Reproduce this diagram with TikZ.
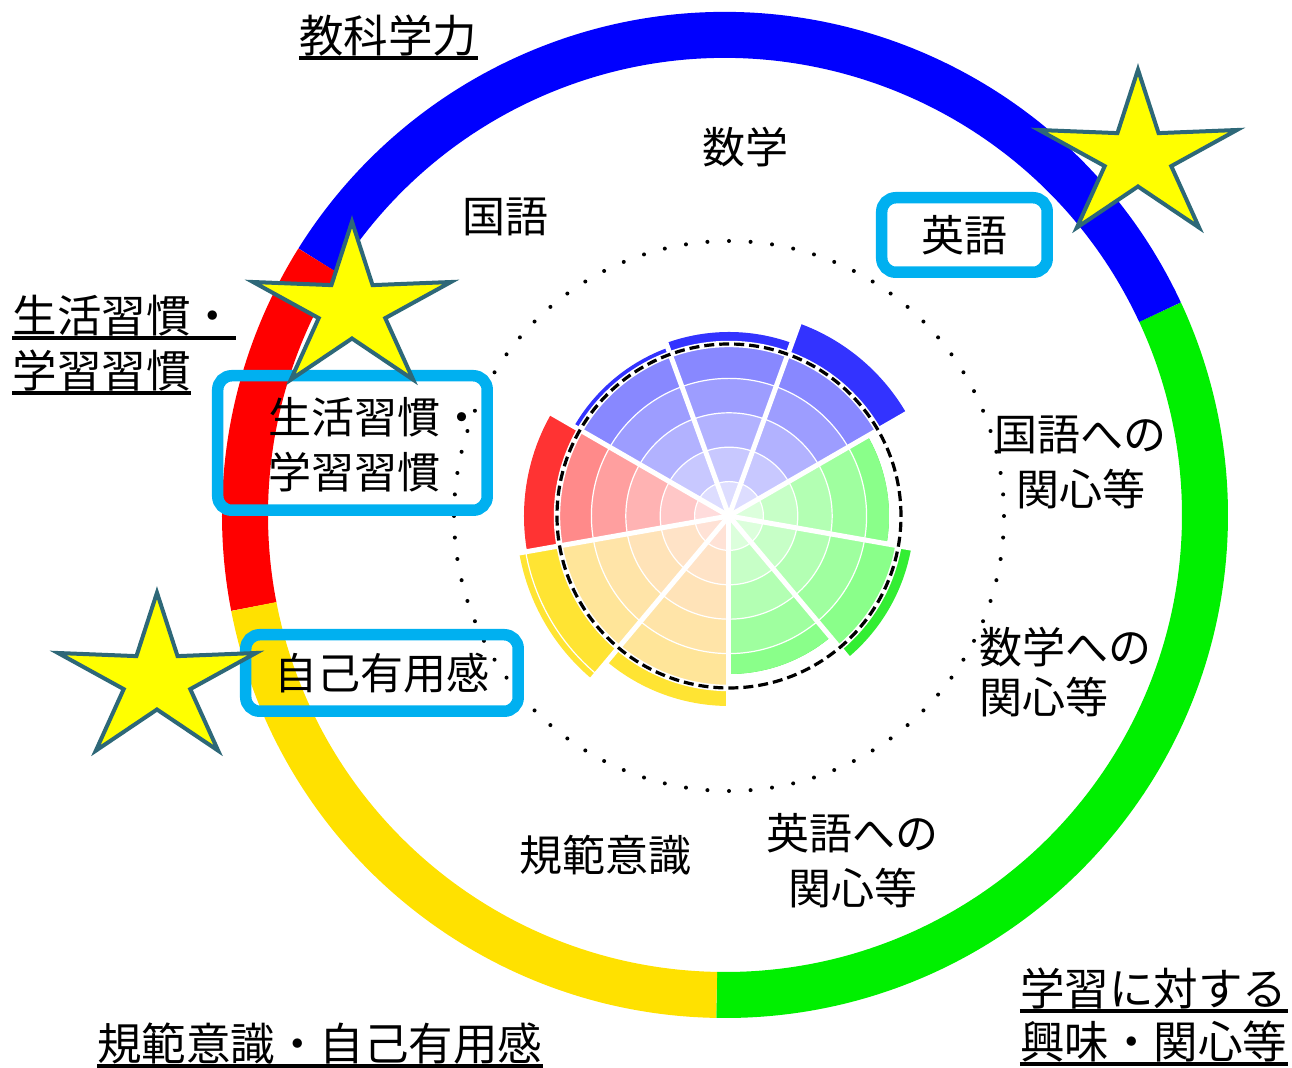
\documentclass[tikz,border=0pt]{standalone}
\usepackage{fontspec}
\newfontfamily\jp{Noto Sans CJK JP}
\usepackage{tikz}
\usetikzlibrary{calc}

\definecolor{ringblu}{HTML}{0000FF}
\definecolor{ringred}{HTML}{FF0000}
\definecolor{ringyel}{HTML}{FFE100}
\definecolor{ringgrn}{HTML}{00F000}
\definecolor{outblu}{HTML}{8888FF}
\definecolor{inblu}{HTML}{DDDDFF}
\definecolor{bandblu}{HTML}{3333FF}
\definecolor{outred}{HTML}{FF8A8A}
\definecolor{inred}{HTML}{FFDCDC}
\definecolor{bandred}{HTML}{FF3333}
\definecolor{outyel}{HTML}{FFE599}
\definecolor{inyel}{HTML}{FFE2D6}
\definecolor{bandyel}{HTML}{FFE433}
\definecolor{outgrn}{HTML}{8AFF8A}
\definecolor{ingrn}{HTML}{DCFFDC}
\definecolor{bandgrn}{HTML}{33EE33}
\definecolor{boxcyan}{HTML}{00B0F0}
\definecolor{starline}{HTML}{2E6878}
\definecolor{starfill}{HTML}{FFFF00}

\begin{document}
\begin{tikzpicture}[x=0.5pt, y=0.5pt,
	ring_seg/.style={line width=23pt},
	sep_line/.style={white, line width=2.5pt},
	grid_line/.style={white, line width=0.6pt},
	avg_line/.style={black, line width=1.6pt, dash pattern=on 5pt off 2.5pt},
	cat_label/.style={font=\jp\fontsize{22.25}{27.5}\selectfont, inner sep=0pt, text height=18.5pt, text depth=2.5pt},
	u_line/.style={line width=2pt},
	in_label/.style={font=\jp\fontsize{21.5}{27.5}\selectfont, inner sep=0pt, align=center},
	hi_box/.style={in_label, draw=boxcyan, line width=5.75pt, rounded corners=7pt},
	star_line/.style={draw=starline, fill=starfill, line width=2pt},
	star_pic/.pic={
		\draw[star_line] (90:104 and 87.3) -- (126:35 and 29.5) -- (162:104 and 87.3) -- (198:35 and 29.5) -- (234:104 and 87.3) -- (270:35 and 29.5) -- (306:104 and 87.3) -- (342:35 and 29.5) -- (18:104 and 87.3) -- (54:35 and 29.5) -- cycle;
	}]
	\useasboundingbox (-729,-552) rectangle (563,516);
	
	% outer ring
	\coordinate (ringc) at (-4,1);
	\draw[ring_seg, ringgrn] ([shift={(269:480)}]ringc) arc[start angle=269, end angle=385, radius=480];
	\draw[ring_seg, ringblu] ([shift={(25:480)}]ringc) arc[start angle=25, end angle=148, radius=480];
	\draw[ring_seg, ringred] ([shift={(148:480)}]ringc) arc[start angle=148, end angle=191, radius=480];
	\draw[ring_seg, ringyel] ([shift={(191:480)}]ringc) arc[start angle=191, end angle=269, radius=480];
	
	% chart sectors
	\foreach \a/\v/\c in {30/205/blu,70/184/blu,110/179/blu,150/205/red,190/213/yel,230/190/yel,270/158/grn,310/185/grn,350/160/grn}{
		\fill[band\c] (0,0) -- (\a:\v) arc[start angle=\a, end angle=\a+40, radius=\v] -- cycle;
		\foreach \k in {5,4,...,1}{
			\pgfmathsetmacro{\r}{min(34.4*\k,\v)}
			\pgfmathsetmacro{\p}{25*(\k-1)}
			\fill[out\c!\p!in\c] (0,0) -- (\a:\r) arc[start angle=\a, end angle=\a+40, radius=\r] -- cycle;
		}
	}
	\foreach \k in {1,...,6}
		\draw[grid_line] (0,0) circle[radius=34.4*\k];
	\foreach \a in {30,70,...,350}
		\draw[sep_line] (0,0) -- (\a:222);
	\draw[white, line width=3.2pt] (0,0) circle[radius=172];
	\draw[avg_line] (0,0) circle[radius=172];
	
	% dotted circle
	\foreach \a in {0,4.5,...,355.5}
		\fill (\a:275) circle[radius=2];
	
	% group labels
	\node[cat_label] (kyoka) at (-340.5,479) {教科学力};
	\node[cat_label, anchor=west] (seikatsu1) at (-716.5,199) {生活習慣・};
	\node[cat_label, anchor=west] (seikatsu2) at (-716.5,144) {学習習慣};
	\node[cat_label] (kihan) at (-409,-529) {規範意識・自己有用感};
	\node[cat_label, anchor=west] (kyomi1) at (291,-474) {学習に対する};
	\node[cat_label, anchor=west] (kyomi2) at (291,-527) {興味・関心等};
	\foreach \n in {kyoka,seikatsu1,seikatsu2,kihan,kyomi1,kyomi2}
		\draw[u_line] (\n.south west) -- (\n.south east);
	
	% item labels
	\node[in_label] (sugaku) at (17,369) {数学};
	\node[in_label] (kokugo) at (-223,299) {国語};
	\node[in_label] (kokugo_kan) at (352,53.5) {国語への\\関心等};
	\node[in_label, align=left, anchor=west, font=\jp\fontsize{21.5}{25}\selectfont] (sugaku_kan) at (250,-156) {数学への\\関心等};
	\node[in_label] (eigo_kan) at (124,-344.5) {英語への\\関心等};
	\node[in_label] (kihan_in) at (-123,-339) {規範意識};
	\node[in_label, align=left, anchor=west] (seikatsu) at (-461,71) {生活習慣・\\学習習慣};
	
	% highlight boxes
	\node[hi_box, minimum width=82.75pt, minimum height=37.25pt] (eigo) at (235.5,281) {英語};
	\node[hi_box, minimum width=134.75pt, minimum height=67.25pt] (seikatsu_box) at (-376.5,73) {};
	\node[hi_box, minimum width=136.25pt, minimum height=38.25pt] (jiko) at (-347,-157) {自己有用感};
	
	% stars
	\pic at (-572,-164) {star_pic};
	\pic at (-377,207) {star_pic};
	\pic at (409,359) {star_pic};
\end{tikzpicture}
\end{document}
